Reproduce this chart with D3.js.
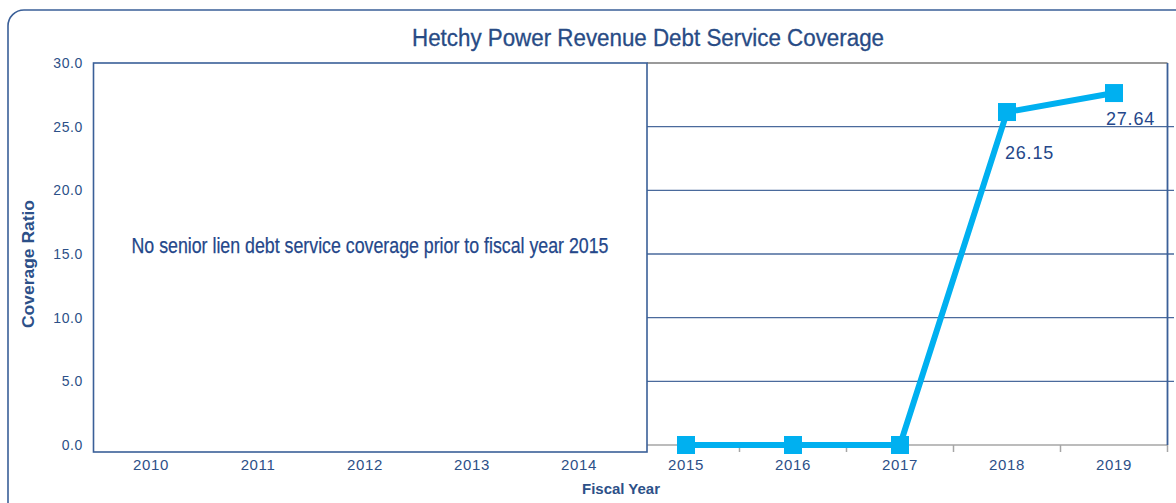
<!DOCTYPE html>
<html><head><meta charset="utf-8">
<script src="https://cdn.jsdelivr.net/npm/d3@7"></script>
<style>
html,body{margin:0;padding:0;background:#fff;}
svg{display:block;}
text{font-family:"Liberation Sans",Arial,sans-serif;}
</style></head>
<body><svg id="c" width="1176" height="503"></svg>
<script>
const years = ["2010","2011","2012","2013","2014","2015","2016","2017","2018","2019"];
const coverageYears = ["2015","2016","2017","2018","2019"];
const coverageValues = [0, 0, 0, 26.15, 27.64];
const labeledValues = [null, null, null, "26.15", "27.64"];
const yTicks = [0, 5, 10, 15, 20, 25, 30];
const noteYears = ["2010","2011","2012","2013","2014"];
const titleText = "Hetchy Power Revenue Debt Service Coverage";
const noteText = "No senior lien debt service coverage prior to fiscal year 2015";

const svg = d3.select("#c");
const textColor = "#2c5088";
const lineColor = "#00b0f0";

const x = d3.scaleBand().domain(years).range([97.5, 1167.5]).padding(0);
const y = d3.scaleLinear().domain([0, 30]).range([445, 63]);

// outer rounded frame
svg.append("rect").attr("x", 8).attr("y", 10).attr("width", 1200).attr("height", 520)
  .attr("rx", 16).attr("fill", "none").attr("stroke", "#3a5f98").attr("stroke-width", 1.6);

// title
svg.append("text").attr("x", 648).attr("y", 46).attr("text-anchor", "middle")
  .attr("font-size", 23).attr("fill", "#284b85")
  .attr("stroke", "#284b85").attr("stroke-width", 0.3)
  .attr("textLength", 472).attr("lengthAdjust", "spacingAndGlyphs")
  .text(titleText);

const boxRight = x(noteYears[noteYears.length - 1]) + x.bandwidth() - 0.5 + 15; // note box edge
const plotRight = x.range()[1];

// gridlines
yTicks.filter(d => d > 0 && d < 30).forEach(t => {
  svg.append("line").attr("x1", boxRight).attr("x2", 1174).attr("y1", y(t)).attr("y2", y(t))
    .attr("stroke", "#4a6a9c").attr("stroke-width", 1.3);
});
svg.append("line").attr("x1", boxRight).attr("x2", plotRight).attr("y1", y(30)).attr("y2", y(30))
  .attr("stroke", "#9a9a9a").attr("stroke-width", 1.8);

// x axis line and ticks (grey)
svg.append("line").attr("x1", boxRight).attr("x2", plotRight).attr("y1", y(0)).attr("y2", y(0))
  .attr("stroke", "#a6a6a6").attr("stroke-width", 1.5);
years.forEach(yr => {
  const bx = x(yr) + x.bandwidth();
  if (bx > boxRight) {
    svg.append("line").attr("x1", bx).attr("x2", bx).attr("y1", y(0)).attr("y2", y(0) + 7)
      .attr("stroke", "#a6a6a6").attr("stroke-width", 1.5);
  }
});
// right vertical border
svg.append("line").attr("x1", plotRight).attr("x2", plotRight).attr("y1", y(30)).attr("y2", y(0))
  .attr("stroke", "#3a5f98").attr("stroke-width", 1.8);

// note box
svg.append("rect").attr("x", 93.5).attr("y", y(30)).attr("width", boxRight - 93.5).attr("height", 452 - y(30))
  .attr("fill", "#fff").attr("stroke", "#3a5f98").attr("stroke-width", 1.6);
svg.append("text").attr("x", 370).attr("y", 253).attr("text-anchor", "middle")
  .attr("font-family", "'Liberation Sans Narrow','Arial Narrow',sans-serif")
  .attr("font-size", 22).attr("fill", "#24478a")
  .attr("stroke", "#24478a").attr("stroke-width", 0.25)
  .attr("textLength", 477).attr("lengthAdjust", "spacingAndGlyphs")
  .text(noteText);

// y axis labels
const yAxis = svg.append("g").attr("transform", "translate(86,0)")
  .call(d3.axisLeft(y).tickValues(yTicks).tickSize(0).tickFormat(d3.format(".1f")));
yAxis.select(".domain").remove();
yAxis.selectAll("text").attr("font-size", 14).attr("fill", textColor)
  .attr("font-family", "'Liberation Sans',Arial,sans-serif").attr("letter-spacing", 0.6).attr("dx", 0);

// x axis labels
const xAxis = svg.append("g").attr("transform", `translate(0,${y(0) + 11})`)
  .call(d3.axisBottom(x).tickSize(0));
xAxis.select(".domain").remove();
xAxis.selectAll("text").attr("font-size", 15).attr("fill", textColor)
  .attr("font-family", "'Liberation Sans',Arial,sans-serif").attr("letter-spacing", 0.6);

// line
const pts = coverageYears.map((yr, i) => ({yr, v: coverageValues[i], lab: labeledValues[i]}));
const cx = d => x(d.yr) + x.bandwidth() / 2;
svg.append("path").datum(pts)
  .attr("d", d3.line().x(cx).y(d => y(d.v)))
  .attr("fill", "none").attr("stroke", lineColor).attr("stroke-width", 6).attr("stroke-linejoin", "miter");
svg.selectAll("rect.mk").data(pts).join("rect").attr("class", "mk")
  .attr("x", d => cx(d) - 9).attr("y", d => y(d.v) - 9).attr("width", 18).attr("height", 18)
  .attr("fill", lineColor);

// data labels
const labelOffsets = [[0,0],[0,0],[0,0],[-2,47],[-8,32]];
svg.selectAll("text.lab").data(pts.filter(d => d.lab)).join("text").attr("class", "lab")
  .attr("x", d => cx(d) + labelOffsets[coverageYears.indexOf(d.yr)][0])
  .attr("y", d => y(d.v) + labelOffsets[coverageYears.indexOf(d.yr)][1])
  .attr("font-size", 18).attr("fill", "#24478a").attr("letter-spacing", 0.8)
  .text(d => d.lab);

// axis titles
svg.append("text").attr("transform", "translate(34,264) rotate(-90)").attr("text-anchor", "middle")
  .attr("font-size", 17).attr("font-weight", "bold").attr("fill", textColor)
  .attr("textLength", 128).attr("lengthAdjust", "spacingAndGlyphs")
  .text("Coverage Ratio");
svg.append("text").attr("x", 621).attr("y", 494).attr("text-anchor", "middle")
  .attr("font-size", 14).attr("font-weight", "bold").attr("fill", textColor)
  .attr("textLength", 78).attr("lengthAdjust", "spacingAndGlyphs")
  .text("Fiscal Year");
</script></body></html>
